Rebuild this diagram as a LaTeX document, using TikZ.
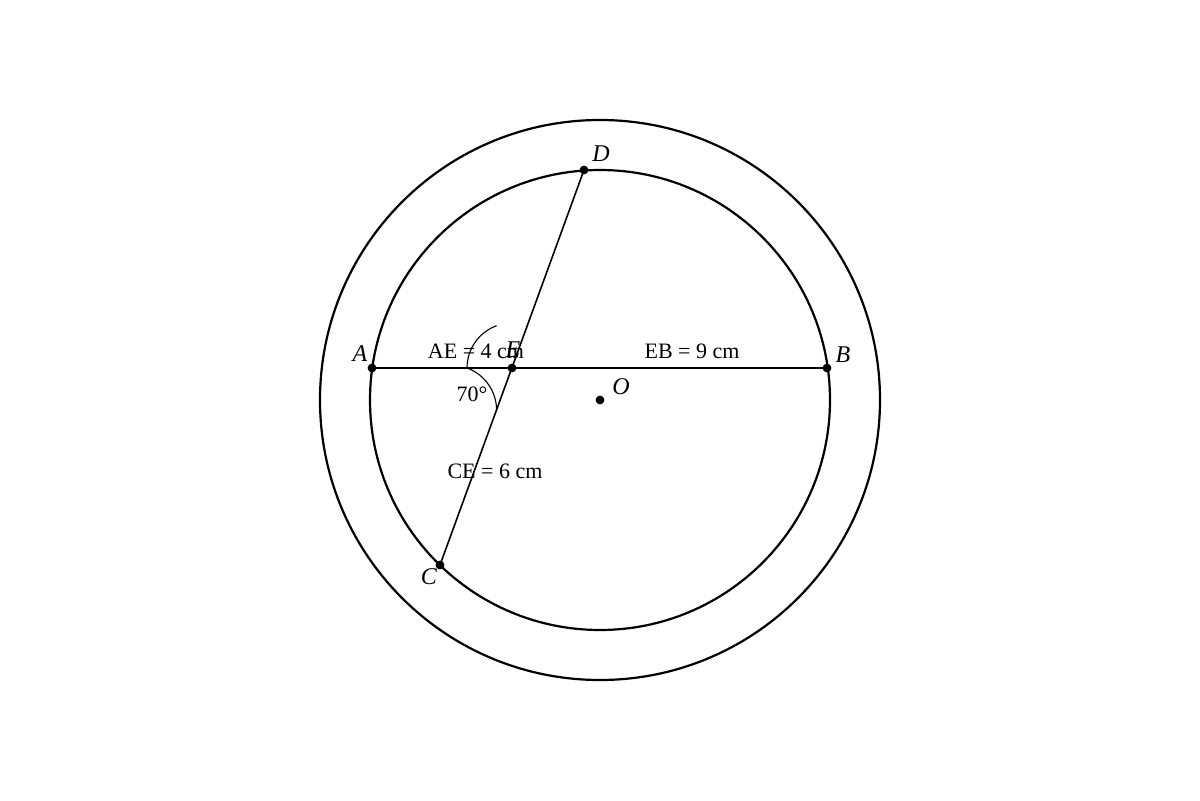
\documentclass[tikz,border=0pt]{standalone}
\usepackage{fontspec}
\setmainfont{Liberation Serif}
\begin{document}
\begin{tikzpicture}[x=0.5pt,y=0.5pt,
  dotpt/.style={circle,fill=black,inner sep=0pt,minimum size=4.4pt},
  ptlabel/.style={font=\fontsize{12}{14}\selectfont\itshape,inner sep=0pt},
  txt/.style={font=\fontsize{11}{13}\selectfont,inner sep=0pt},
  chord/.style={line width=0.8pt},
  ring/.style={line width=1.1pt},
  anglearc/.style={line width=0.55pt}]
\useasboundingbox (0,0) rectangle (1200,800);
% centre and points
\coordinate (Oc) at (600,400);
\node[dotpt] (O) at (600,400) {};
\node[dotpt] (A) at (372,432) {};
\node[dotpt] (B) at (827,432) {};
\node[dotpt] (D) at (584,630) {};
\node[dotpt] (C) at (440,235) {};
\node[dotpt] (E) at (512,432) {};
% circles
\draw[ring] (Oc) circle[radius=140pt];
\draw[ring] (Oc) circle[radius=115pt];
% chords
\draw[chord] (A.center) -- (B.center);
\draw[chord] (D.center) -- (C.center);
% angle arcs
\coordinate (K) at (467,432);
\draw[anglearc] (K) arc[start angle=180,end angle=110,radius=22.5pt];
\draw[anglearc] (K) arc[start angle=70,end angle=0,radius=22.5pt];
% labels
\node[ptlabel] (lD) at (601,646) {D};
\node[ptlabel] (lA) at (360,446) {A};
\node[ptlabel] (lB) at (843,445) {B};
\node[ptlabel] (lC) at (429,223) {C};
\node[ptlabel] (lE) at (513,450) {E};
\node[ptlabel] (lO) at (621,413) {O};
\node[txt] (tAE) at (476,449) {AE = 4 cm};
\node[txt] (tEB) at (692,449) {EB = 9 cm};
\node[txt] (tCE) at (495,329) {CE = 6 cm};
\node[txt] (tang) at (472,406) {70°};
\end{tikzpicture}
\end{document}
